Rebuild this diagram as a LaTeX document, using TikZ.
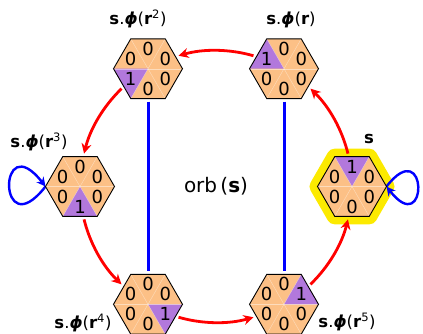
\documentclass[tikz,border=0pt]{standalone}
\usepackage{fontspec}
\setmainfont{DejaVu Sans}
\usetikzlibrary{arrows.meta,calc}
\definecolor{hexor}{RGB}{252,192,134}
\definecolor{hexpu}{RGB}{178,120,220}
\definecolor{hiyel}{RGB}{252,234,0}
\tikzset{
  hexline/.style={draw=black,line width=0.9pt,line join=miter},
  divline/.style={draw=white,opacity=0.45,line width=0.4pt},
  digit/.style={inner sep=0pt,font=\fontsize{18}{18}\selectfont},
  lbl/.style={inner sep=0pt,font=\fontsize{16.5}{18}\selectfont},
  rot/.style={draw=red,line width=2.8pt,-{Stealth[length=10pt,width=10pt]}},
  refl/.style={draw=blue,line width=3pt},
  selfloop/.style={draw=blue,line width=2.4pt,-{Stealth[length=9pt,width=9pt]}},
}
\newcommand\hexstate[2]{%
  \fill[hexor] ([shift={(0:34.5)}]#1) -- ([shift={(60:34.5)}]#1) -- ([shift={(120:34.5)}]#1) -- ([shift={(180:34.5)}]#1) -- ([shift={(240:34.5)}]#1) -- ([shift={(300:34.5)}]#1) -- cycle;
  \fill[hexpu] (#1) -- ([shift={({60*#2}:34.5)}]#1) -- ([shift={({60*#2+60}:34.5)}]#1) -- cycle;
  \foreach \k in {0,...,5}{\draw[divline] (#1) -- ([shift={({60*\k}:34.5)}]#1);}
  \draw[hexline] ([shift={(0:34.5)}]#1) -- ([shift={(60:34.5)}]#1) -- ([shift={(120:34.5)}]#1) -- ([shift={(180:34.5)}]#1) -- ([shift={(240:34.5)}]#1) -- ([shift={(300:34.5)}]#1) -- cycle;
  \foreach \k in {0,...,5}{\node[digit] at ([shift={({30+60*\k}:20)}]#1) {\ifnum\k=#2 1\else 0\fi};}
}
\begin{document}
\begin{tikzpicture}[x=1pt,y=1pt]
\useasboundingbox (0,-334) rectangle (423,0);
\coordinate (C) at (216,-186.5);
\coordinate (s) at ($(C)+(0:136)$);
\coordinate (r1) at ($(C)+(60:136)$);
\coordinate (r2) at ($(C)+(120:136)$);
\coordinate (r3) at ($(C)+(180:136)$);
\coordinate (r4) at ($(C)+(240:136)$);
\coordinate (r5) at ($(C)+(300:136)$);
% highlight of s
\filldraw[fill=hiyel,draw=hiyel,line width=16pt,line join=round] ([shift={(0:34.5)}]s) -- ([shift={(60:34.5)}]s) -- ([shift={(120:34.5)}]s) -- ([shift={(180:34.5)}]s) -- ([shift={(240:34.5)}]s) -- ([shift={(300:34.5)}]s) -- cycle;
% rotation arrows
\foreach \a in {0,60,...,300}{
  \draw[rot] ([shift={({\a+14}:136)}]C) arc[start angle=\a+14, end angle=\a+46, radius=136];
}
% reflection lines
\draw[refl] ([yshift=-33]r2) -- ([yshift=33]r4);
\draw[refl] ([yshift=-33]r1) -- ([yshift=33]r5);
% self loops
\coordinate (r3v) at ([xshift=-34.5]r3);
\coordinate (sv) at ([xshift=34.5]s);
\draw[selfloop] (r3v) .. controls +(232:78) and +(128:78) .. (r3v);
\draw[selfloop] (sv) .. controls +(52:68) and +(-52:68) .. (sv);
% hexagons
\hexstate{s}{1}
\hexstate{r1}{2}
\hexstate{r2}{3}
\hexstate{r3}{4}
\hexstate{r4}{5}
\hexstate{r5}{0}
% labels
\node[lbl] (ls) at (369,-139) {\textbf{s}};
\node[lbl] (l1) at (291,-20) {\textbf{s}.\textbf{\textit{ϕ}}(\textbf{r})};
\node[lbl] (l2) at (138,-19) {\textbf{s}.\textbf{\textit{ϕ}}(\textbf{r}\textsuperscript{2})};
\node[lbl] (l3) at (39,-142) {\textbf{s}.\textbf{\textit{ϕ}}(\textbf{r}\textsuperscript{3})};
\node[lbl] (l4) at (83,-323) {\textbf{s}.\textbf{\textit{ϕ}}(\textbf{r}\textsuperscript{4})};
\node[lbl] (l5) at (347,-322) {\textbf{s}.\textbf{\textit{ϕ}}(\textbf{r}\textsuperscript{5})};
\node[inner sep=0pt,font=\fontsize{20}{21}\selectfont] (orb) at (C) {orb\,(\textbf{s})};
\end{tikzpicture}
\end{document}
